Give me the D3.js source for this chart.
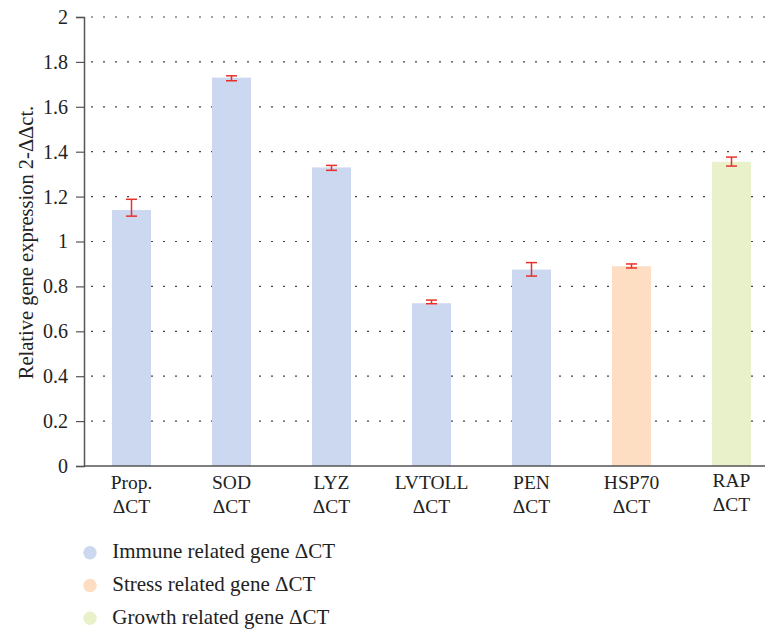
<!DOCTYPE html>
<html lang="en">
<head>
<meta charset="UTF-8">
<title>Relative gene expression</title>
<script src="https://d3js.org/d3.v7.min.js"></script>
<style>
  body { margin: 0; background: #fff; }
  text { font-family: "Liberation Serif", "Times New Roman", serif; fill: #222; }
</style>
</head>
<body>
<div id="chart"></div>
<script>
// data
const genes = ["Prop.", "SOD", "LYZ", "LVTOLL", "PEN", "HSP70", "RAP"];
const values = [1.14, 1.73, 1.33, 0.725, 0.875, 0.89, 1.355];
const errLow = [1.113, 1.716, 1.317, 0.723, 0.846, 0.882, 1.336];
const errHigh = [1.188, 1.738, 1.339, 0.739, 0.906, 0.900, 1.376];
const groups = ["immune", "immune", "immune", "immune", "immune", "stress", "growth"];
const yTicks = [0, 0.2, 0.4, 0.6, 0.8, 1, 1.2, 1.4, 1.6, 1.8, 2];
const legendLabels = ["Immune related gene ΔCT", "Stress related gene ΔCT", "Growth related gene ΔCT"];
const legendKeys = ["immune", "stress", "growth"];

const colors = { immune: "#cbd8f0", stress: "#fddec3", growth: "#e8f1c9" };

const W = 765, H = 631;
const axisX = 84;
const svg = d3.select("#chart").append("svg")
    .attr("width", W)
    .attr("height", H);

const y = d3.scaleLinear().domain([0, 2]).range([466, 17]);
const x = d3.scaleBand().domain(genes).range([81.5, 781.5]).paddingInner(0.61).paddingOuter(0.305);

// dotted gridlines (behind the bars)
svg.append("g")
    .selectAll("line")
    .data(yTicks.filter(d => d > 0))
    .join("line")
    .attr("x1", axisX + 7)
    .attr("x2", W)
    .attr("y1", d => y(d))
    .attr("y2", d => y(d))
    .attr("stroke", "#444")
    .attr("stroke-width", 1.2)
    .attr("stroke-dasharray", "2,10");

// bars
svg.append("g")
    .selectAll("rect")
    .data(genes)
    .join("rect")
    .attr("x", d => x(d))
    .attr("width", x.bandwidth())
    .attr("y", (d, i) => y(values[i]))
    .attr("height", (d, i) => y(0) - y(values[i]))
    .attr("fill", (d, i) => colors[groups[i]]);

// error bars
const eb = svg.append("g")
    .attr("stroke", "#e8302a")
    .attr("stroke-width", 1.5);
genes.forEach((g, i) => {
    const cx = x(g) + x.bandwidth() / 2;
    eb.append("line").attr("x1", cx).attr("x2", cx).attr("y1", y(errLow[i])).attr("y2", y(errHigh[i]));
    eb.append("line").attr("x1", cx - 5.5).attr("x2", cx + 5.5).attr("y1", y(errLow[i])).attr("y2", y(errLow[i]));
    eb.append("line").attr("x1", cx - 5.5).attr("x2", cx + 5.5).attr("y1", y(errHigh[i])).attr("y2", y(errHigh[i]));
});

// y axis
const yAxis = svg.append("g")
    .attr("transform", "translate(" + axisX + ",0)")
    .call(d3.axisLeft(y).tickValues(yTicks).tickFormat(d3.format("~g")).tickSize(8).tickPadding(8));
yAxis.select(".domain").attr("stroke", "#555").attr("stroke-width", 1.5);
yAxis.selectAll(".tick line").attr("stroke", "#555").attr("stroke-width", 1.2);
yAxis.selectAll(".tick text")
    .attr("font-size", 20)
    .attr("fill", "#222");

// x axis baseline
svg.append("line")
    .attr("x1", axisX).attr("x2", W)
    .attr("y1", y(0)).attr("y2", y(0))
    .attr("stroke", "#555").attr("stroke-width", 1.5);

// x labels, two lines each
const xl = svg.append("g")
    .selectAll("text")
    .data(genes)
    .join("text")
    .attr("text-anchor", "middle")
    .attr("font-size", 19.5)
    .attr("transform", d => "translate(" + (x(d) + x.bandwidth() / 2) + "," + (d === "RAP" ? 486.7 : 489.3) + ")");
xl.append("tspan").attr("x", 0).attr("y", 0).text(d => d);
xl.append("tspan").attr("x", 0).attr("dy", 24).text("ΔCT");

// y title
svg.append("text")
    .attr("transform", "translate(33,242.5) rotate(-90)")
    .attr("text-anchor", "middle")
    .attr("font-size", 20.5)
    .text("Relative gene expression 2-ΔΔct.");

// legend
const lg = svg.append("g")
    .selectAll("g")
    .data(legendLabels)
    .join("g")
    .attr("transform", (d, i) => "translate(90," + (552.7 + i * 32.8) + ")");
lg.append("circle")
    .attr("r", 6.7)
    .attr("fill", (d, i) => colors[legendKeys[i]]);
lg.append("text")
    .attr("x", 22.3)
    .attr("y", 5.6)
    .attr("font-size", 21)
    .text(d => d);
</script>
</body>
</html>
